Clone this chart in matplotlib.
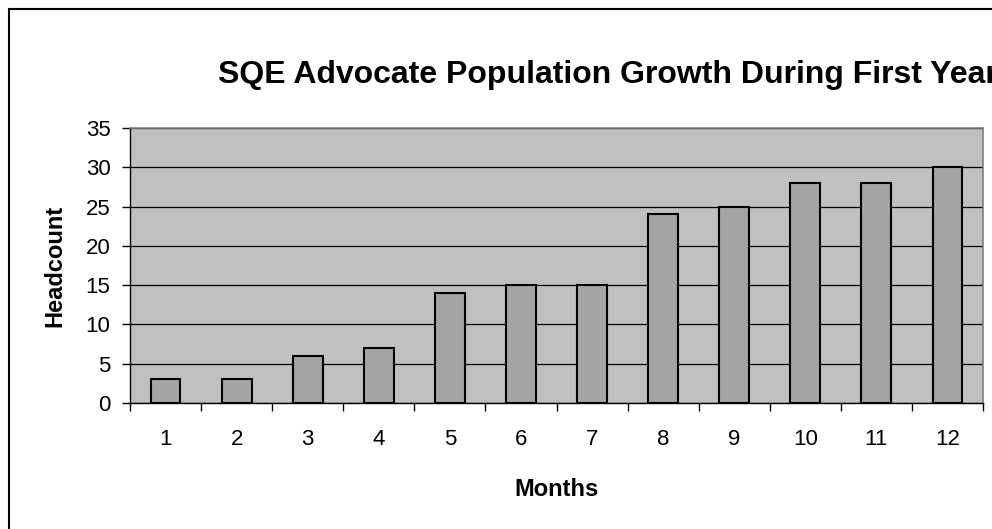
import matplotlib
matplotlib.use("Agg")
import matplotlib.pyplot as plt
from matplotlib.patches import Rectangle
import numpy as np

plt.rcParams['font.family'] = ['Liberation Sans', 'DejaVu Sans']

months = ["1", "2", "3", "4", "5", "6", "7", "8", "9", "10", "11", "12"]
headcount = [3, 3, 6, 7, 14, 15, 15, 24, 25, 28, 28, 30]
y_ticks = [0, 5, 10, 15, 20, 25, 30, 35]

W, H = 992, 529
fig = plt.figure(figsize=(W / 100, H / 100), dpi=100)
fig.patch.set_facecolor("white")

# plot area in pixel coords
left, right, top, bottom = 130, 983, 128, 403
ax = fig.add_axes([left / W, 1 - bottom / H, (right - left) / W, (bottom - top) / H])
ax.set_facecolor("#C0C0C0")

x = np.arange(len(months))
ax.bar(x, headcount, width=0.42, color="#A4A4A4", edgecolor="black", linewidth=1.5, zorder=3)

ax.set_xlim(-0.5, len(months) - 0.5)
ax.set_ylim(0, 35)
ax.set_yticks(y_ticks)
ax.yaxis.grid(True, color="black", linewidth=0.9, zorder=1)
ax.set_axisbelow(True)

# category labels at centers, tick marks between categories
ax.set_xticks(x, labels=months)
ax.set_xticks(np.arange(-0.5, len(months)), minor=True)
ax.tick_params(axis="x", which="major", length=0, pad=19, labelsize=16)
ax.tick_params(axis="x", which="minor", length=6, width=1, direction="out", color="black")
ax.tick_params(axis="y", length=6, width=1, direction="out", pad=8, labelsize=16)

for s in ["top", "right"]:
    ax.spines[s].set_color("#808080")
    ax.spines[s].set_linewidth(1.2)
for s in ["left", "bottom"]:
    ax.spines[s].set_color("black")
    ax.spines[s].set_linewidth(1)

ax.set_xlabel("Months", fontsize=17, fontweight="bold", labelpad=20)
ax.set_ylabel("Headcount", fontsize=17, fontweight="bold", labelpad=14)

fig.text(218 / W, 1 - 75 / H, "SQE Advocate Population Growth During First Year",
         fontsize=23, fontweight="bold", ha="left", va="center")

# chart border (only top and left edges are inside the crop)
fig.patches.append(Rectangle((9 / W, -0.1), 1.2, 1 - 9 / H + 0.1, transform=fig.transFigure,
                             fill=False, edgecolor="black", linewidth=1.5))

fig.savefig("out.png", dpi=100)
